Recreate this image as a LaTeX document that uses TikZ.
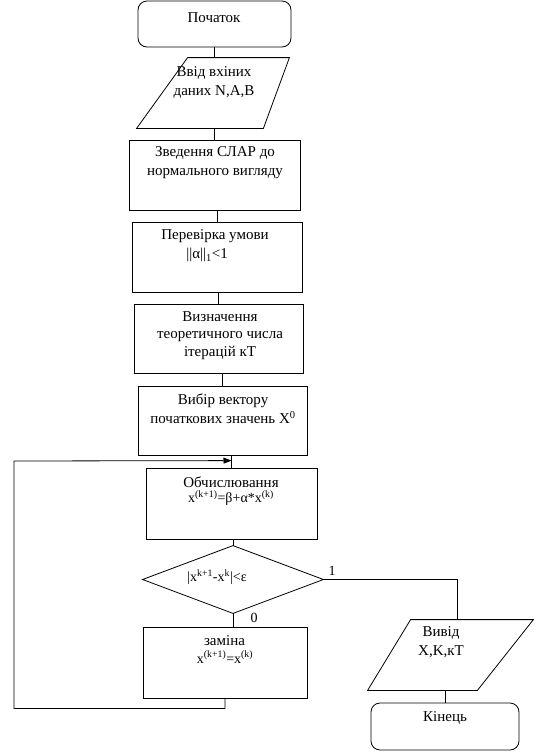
\documentclass[tikz,border=0pt]{standalone}
\usepackage{fontspec}
\setmainfont{Liberation Serif}
\usetikzlibrary{arrows.meta,positioning}

\begin{document}
\begin{tikzpicture}[
  x=1pt, y=-1pt, line width=0.8pt,
  block/.style = {draw, rectangle, inner sep=0pt},
  term/.style  = {block, rounded corners=9pt},
  io/.style    = {rectangle, inner sep=0pt},
  txt/.style   = {align=center, inner sep=0pt, font=\fontsize{15}{19}\selectfont},
  frm/.style   = {inner sep=0pt, font=\fontsize{14}{16}\selectfont},
  lbl/.style   = {inner sep=0pt, font=\fontsize{14}{16}\selectfont}
    ]
  \useasboundingbox (0,0) rectangle (540,756);
  % shapes
  \node[term, minimum width=153pt, minimum height=46pt] (start) at (214.5,24) {};
  \node[io, minimum width=152pt, minimum height=70pt] (in) at (213,93) {};
  \draw ([xshift=51pt]in.north west) -- (in.north east)
     -- ([xshift=-26pt]in.south east) -- (in.south west) -- cycle;
  \node[block, minimum width=171pt, minimum height=70pt] (b2) at (214.5,175) {};
  \node[block, minimum width=170pt, minimum height=70pt] (b3) at (217,257) {};
  \node[block, minimum width=169pt, minimum height=69pt] (b4) at (218.5,338.5) {};
  \node[block, minimum width=169pt, minimum height=69pt] (b5) at (222.5,420.5) {};
  \node[block, minimum width=171pt, minimum height=71pt] (b6) at (231.5,503.5) {};
  \node[minimum width=180pt, minimum height=67pt, inner sep=0pt] (d) at (233,579.5) {};
  \draw (d.north) -- (d.east) -- (d.south) -- (d.west) -- cycle;
  \node[block, minimum width=164pt, minimum height=71pt] (b7) at (225,662.5) {};
  \node[io, minimum width=165pt, minimum height=70pt] (out) at (450.5,655) {};
  \draw ([xshift=43pt]out.north west) -- (out.north east)
     -- ([xshift=-56pt]out.south east) -- (out.south west) -- cycle;
  \node[term, minimum width=148pt, minimum height=47pt] (end) at (445,726.5) {};
  % texts
  \node[txt] (tstart) at (214,18) {Початок};
  \node[txt] (tin) at (214,82.5) {Ввід вхіних\\даних N,A,B};
  \node[txt] (t2) at (215,163) {Зведення СЛАР до\\нормального вигляду};
  \node[txt, align=left] (t3) at (215,246) {Перевірка умови\\\hspace*{25pt}||α||\textsubscript{1}<1};
  \node[txt, font=\fontsize{15}{17.5}\selectfont] (t4) at (220,335.5) {Визначення\\теоретичного числа\\ітерацій кT};
  \node[txt] (t5) at (223,408.5) {Вибір вектору\\початкових значень X\textsuperscript{0}};
  \node[txt] (t6) at (231,482) {Обчислювання};
  \node[frm] (f6) at (231,498) {x\textsuperscript{(k+1)}=β+α*x\textsuperscript{(k)}};
  \node[frm] (td) at (217,577) {|x\textsuperscript{k+1}-x\textsuperscript{k}|<ε};
  \node[txt] (t7) at (224.5,641) {заміна};
  \node[frm] (f7) at (225,657) {x\textsuperscript{(k+1)}=x\textsuperscript{(k)}};
  \node[txt] (tout) at (441,642.5) {Вивід\\X,K,кT};
  \node[txt] (tend) at (445,718) {Кінець};
  \node[lbl] (one) at (332,571) {1};
  \node[lbl] (zero) at (254,618) {0};
  % connectors
  \draw (start.south) -- (start.south |- in.north);
  \draw (b2.north) -- (b2.north |- in.south);
  \draw (b3.north) -- (b3.north |- b2.south);
  \draw (b4.north) -- (b4.north |- b3.south);
  \draw (b5.north) -- (b5.north |- b4.south);
  \draw (b6.north) -- (b6.north |- b5.south);
  \draw (d.north) -- (d.north |- b6.south);
  \draw (d.south) -- (d.south |- b7.north);
  \draw (d.east) -| ([xshift=6.5pt]out.north);
  \draw (end.north |- out.south) -- (end.north);
  \path (b6.north) ++(0,-7) coordinate (join);
  \draw[-{Triangle[length=8pt,width=6pt]}] (b7.south) -- ++(0,10) -| (14,461) -- (join);
\end{tikzpicture}
\end{document}
